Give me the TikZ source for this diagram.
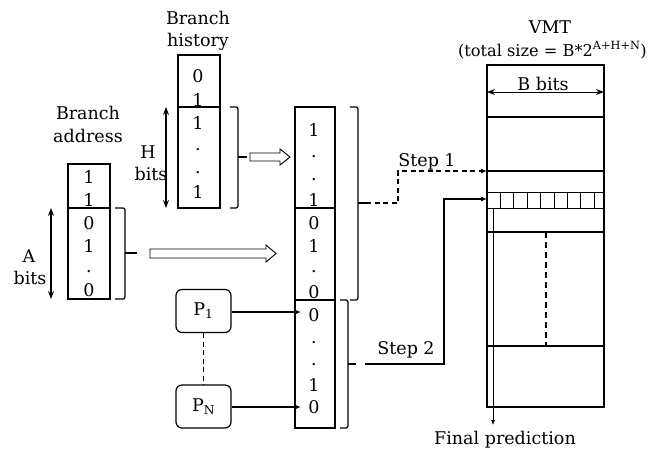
\documentclass[tikz,border=0pt]{standalone}
\usepackage{fontspec}
\setmainfont{DejaVu Serif}
\usetikzlibrary{arrows.meta}
\begin{document}
\begin{tikzpicture}[x=1pt,y=-1pt,
  txt/.style={font=\fontsize{17.5}{20}\selectfont, inner sep=0pt},
  box/.style={draw, line width=1.2pt, inner sep=0pt},
  pbox/.style={draw, line width=1.2pt, rounded corners=6pt, minimum width=55pt, minimum height=43pt, inner sep=0pt, font=\fontsize{17.5}{20}\selectfont},
  thin/.style={line width=0.7pt},
  ln/.style={line width=1.2pt},
  brc/.style={line width=1.2pt, rounded corners=2pt},
  dsh/.style={line width=1.2pt, dash pattern=on 5pt off 3.5pt},
  tip/.style={-{Latex[length=6pt,width=5pt]}},
  dbl/.style={{Stealth[length=8pt,width=6pt]}-{Stealth[length=8pt,width=6pt]}},
  fat/.style={line width=0.9pt}]
\useasboundingbox (0,0) rectangle (650,448);

% ---------- Branch history ----------
\node[txt] (bhT1) at (198,18) {Branch};
\node[txt] (bhT2) at (198,42) {history};
\node[box, minimum width=42pt, minimum height=52pt] (bhA) at (199,81) {};
\node[box, minimum width=42pt, minimum height=101pt] (bhB) at (199,157.5) {};
\foreach \y/\t in {76/0,100/1,123/1,150/.,173/.,192/1}
  \node[txt] at (198,\y) {\t};
\draw[dbl, ln] (166,107) -- (166,208);
\node[txt] (hH) at (148,152) {H};
\node[txt] (hB) at (151,174) {bits};
\draw[brc] (230,107) -- (238,107) -- (238,208) -- (230,208);
\draw[ln] (238,157) -- (247,157);
\draw[fat] (250,153) -- (280,153) -- (280,149) -- (290,157) -- (280,165) -- (280,161) -- (250,161) -- cycle;

% ---------- Branch address ----------
\node[txt] (baT1) at (88,113) {Branch};
\node[txt] (baT2) at (88,136) {address};
\node[box, minimum width=42pt, minimum height=44pt] (baA) at (89,186) {};
\node[box, minimum width=42pt, minimum height=91pt] (baB) at (89,253.5) {};
\foreach \y/\t in {177/1,200/1,223/0,246/1,272/.,290/0}
  \node[txt] at (89,\y) {\t};
\draw[dbl, ln] (51,208) -- (51,299);
\node[txt] (aA) at (29,256) {A};
\node[txt] (aB) at (30,278) {bits};
\draw[brc] (115,208) -- (125,208) -- (125,299) -- (115,299);
\draw[ln] (125,253) -- (137,253);
\draw[fat] (150,249) -- (266,249) -- (266,245) -- (276,253.5) -- (266,262) -- (266,258) -- (150,258) -- cycle;

% ---------- Middle index ----------
\node[box, minimum width=40pt, minimum height=101pt] (m1) at (315,157.5) {};
\node[box, minimum width=40pt, minimum height=92pt] (m2) at (315,254) {};
\node[box, minimum width=40pt, minimum height=128pt] (m3) at (315,364) {};
\foreach \y/\t in {130/1,157/.,180/.,200/1,223/0,246/1,272/.,292/0,315/0,343/.,365/.,385/1,407/0}
  \node[txt] at (314,\y) {\t};
\draw[brc] (350,107) -- (358,107) -- (358,300) -- (350,300);
\draw[ln] (358,203) -- (366,203);
\draw[brc] (340,300) -- (348,300) -- (348,428) -- (340,428);
\draw[ln] (348,364) -- (356,364);

% ---------- P boxes ----------
\node[pbox] (p1) at (203.5,311) {P\textsubscript{1}};
\node[pbox] (pn) at (203.5,406.5) {P\textsubscript{N}};
\draw[dsh] (p1.south) -- (pn.north);
\coordinate (e1) at (301,312);
\coordinate (en) at (301,407);
\draw[ln, tip] (p1.east |- e1) -- (e1);
\draw[ln, tip] (pn.east |- en) -- (en);

% ---------- VMT ----------
\node[txt] (vT1) at (550,27) {VMT};
\node[txt, anchor=east, font=\fontsize{16.2}{19}\selectfont] (vT2) at (647,50) {(total size = B*2\textsuperscript{A+H+N})};
\node[box, minimum width=117pt, minimum height=342pt] (vmt) at (545.5,236) {};
\foreach \y in {117,171,232,346}
  \draw[ln] (487,\y) -- (604,\y);
\draw[thin] (487,192) -- (604,192);
\draw[thin] (487,208) -- (604,208);
\foreach \i in {1,...,8}
  \draw[thin] ({487+13.4*\i},192) -- ({487+13.4*\i},208);
\draw[dbl, line width=1pt] (487,92) -- (604,92);
\node[txt] (bb) at (543,84) {B bits};
\draw[line width=1.2pt, dash pattern=on 6pt off 4pt] (546,232) -- (546,346);
\coordinate (fp0) at (493,208);
\coordinate (fp1) at (493,425);
\draw[thin, -{Latex[length=5pt,width=4pt]}] (fp0) -- (fp1);
\node[txt] (fp) at (505,440) {Final prediction};

% ---------- Steps ----------
\coordinate (s1a) at (366,203);
\coordinate (s1b) at (487,171);
\draw[dsh, tip] (s1a) -- (398,203) -- (398,171) -- (s1b);
\node[txt] (st1) at (427,162) {Step 1};
\coordinate (s2a) at (365,364);
\coordinate (s2b) at (487,199);
\draw[ln, tip] (s2a) -- (444,364) -- (444,199) -- (s2b);
\node[txt] (st2) at (406,350) {Step 2};
\end{tikzpicture}
\end{document}
